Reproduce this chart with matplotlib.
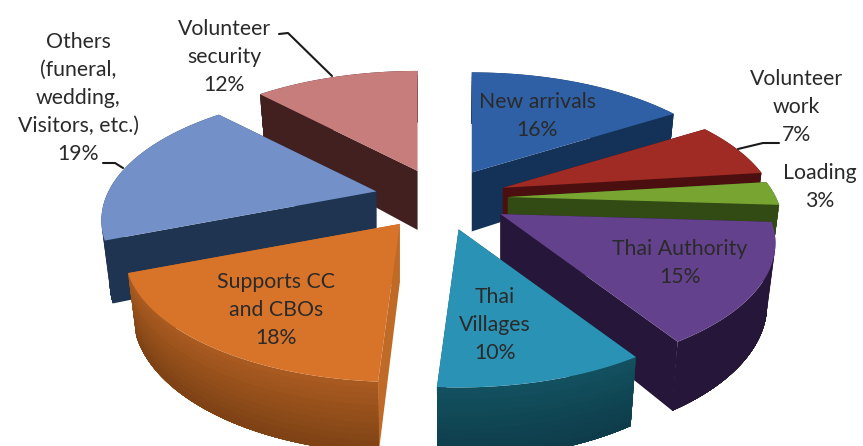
import numpy as np
import matplotlib
matplotlib.use('Agg')
import matplotlib.pyplot as plt
from matplotlib.patches import Polygon

plt.rcParams['font.family'] = ['Lato', 'DejaVu Sans']

# slices clockwise from 12 o'clock
labels = ['New arrivals', 'Volunteer\nwork', 'Loading', 'Thai Authority', 'Thai\nVillages',
          'Supports CC\nand CBOs', 'Others\n(funeral,\nwedding,\nVisitors, etc.)', 'Volunteer\nsecurity']
values = [16, 7, 3, 15, 10, 18, 19, 12]

top_colors = ['#2f5fa5', '#a02a24', '#78a532', '#64418c', '#2a93b5', '#d8742a', '#7391c8', '#c87d7d']
side_colors = ['#143257', '#4b0f0f', '#324b14', '#26173a', '#0f4150', '#c06a28', '#1e3450', '#41201f']
rim_top = ['#143257', '#4b0f0f', '#324b14', '#26173a', '#12505f', '#a85a20', '#1e3450', '#41201f']
rim_bottom = ['#143257', '#4b0f0f', '#324b14', '#26173a', '#0e3a48', '#7a4014', '#1e3450', '#41201f']

# back to front
draw_order = [0, 7, 6, 5, 1, 2, 3, 4]

label_pos = [(537, 116), (796, 107), (820, 187), (680, 263), (495, 325),
             (276, 310), (78, 98), (224, 57)]

leaders = [([279, 288, 332], [34, 33, 76]),
           ([103, 115, 123], [163, 163, 168]),
           ([738, 763, 779], [149, 143, 143])]

cx, cy = 441, 198
fx, fy, persp = 268, 122.5, 0.225
explode = 0.25
depth = 59


def project(x, y):
    d = 1 + persp * y
    return np.array([fx * x / d, -fy * y / d])


fig = plt.figure(figsize=(8.63, 4.46), dpi=100, facecolor='white')
ax = fig.add_axes([0, 0, 1, 1])
ax.set_xlim(0, 863)
ax.set_ylim(446, 0)
ax.axis('off')

edges = np.concatenate([[0], np.cumsum(values)]) / np.sum(values) * 2 * np.pi

for i in draw_order:
    a0, a1 = edges[i], edges[i + 1]
    mid = (a0 + a1) / 2
    shift = project(explode * np.sin(mid), explode * np.cos(mid)) + [cx, cy]

    angles = np.linspace(a0, a1, 60)
    rim = np.array([project(np.sin(a), np.cos(a)) for a in angles])
    wall = depth / (1 + persp * np.cos(angles))
    rim_up = rim + shift
    rim_low = rim * 0.97 + shift + np.column_stack([np.zeros(60), wall])
    apex_up = shift
    apex_low = shift + [0, depth]

    # cut faces, then outer wall shaded downward, then the top
    for p_up, p_low in [(rim_up[0], rim_low[0]), (rim_up[-1], rim_low[-1])]:
        ax.add_patch(Polygon([apex_up, p_up, p_low, apex_low], closed=True, fc=side_colors[i], ec='none'))
    c0 = np.array(matplotlib.colors.to_rgb(rim_top[i]))
    c1 = np.array(matplotlib.colors.to_rgb(rim_bottom[i]))
    n = 12
    for s in range(n):
        t = s / n
        # each band runs to the lower edge so no seams show between bands
        band = rim_up + (rim_low - rim_up) * t
        ax.add_patch(Polygon(np.vstack([band, rim_low[::-1]]), closed=True,
                             fc=c0 + (c1 - c0) * t, ec='none'))
    ax.add_patch(Polygon(np.vstack([apex_up, rim_up]), closed=True, fc=top_colors[i], ec='none'))

for xs, ys in leaders:
    ax.plot(xs, ys, color='#1a1a1a', lw=1.5, solid_capstyle='round')

for name, val, (tx, ty) in zip(labels, values, label_pos):
    ax.text(tx, ty, f'{name}\n{val}%', ha='center', va='center', fontsize=15.3,
            color='#2a2a2a', linespacing=1.5)

fig.savefig('out.png', dpi=100)
